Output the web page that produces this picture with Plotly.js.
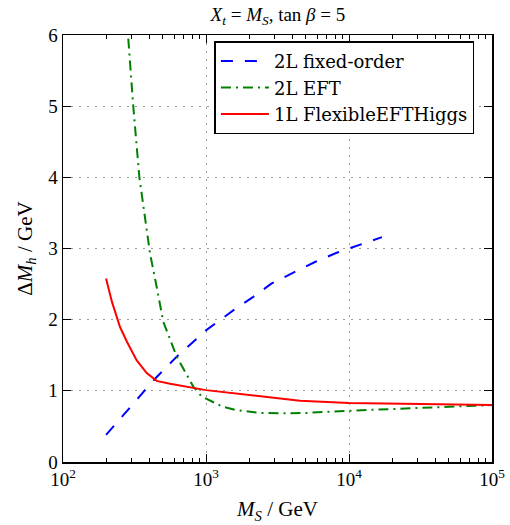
<!DOCTYPE html>
<html>
<head>
<meta charset="utf-8">
<script src="https://cdn.plot.ly/plotly-3.0.1.min.js"></script>
<style>html,body{margin:0;padding:0;background:#fff;}#chart{width:510px;height:525px;}</style>
</head>
<body>
<div id="chart"></div>
<script>
// M_S values (GeV) and Delta M_h (GeV)
const fixedOrderX = [200, 440, 624, 1000, 1550, 2140, 2880, 4080, 5780, 8200, 10000, 17000];
const fixedOrderY = [0.38, 1.17, 1.48, 1.85, 2.13, 2.32, 2.51, 2.66, 2.81, 2.94, 3.00, 3.16];

const eftX = [286, 310, 342, 385, 406, 452, 503, 624, 815, 933, 1114, 1300, 1620, 1950, 2390, 3500, 5060, 10000, 22700, 50800, 100000];
const eftY = [5.95, 5.00, 4.00, 3.26, 2.93, 2.46, 1.97, 1.48, 1.06, 0.92, 0.85, 0.78, 0.73, 0.71, 0.69, 0.685, 0.69, 0.72, 0.745, 0.77, 0.80];

const flexX = [200, 220, 250, 280, 327, 385, 452, 560, 1000, 2390, 4540, 10000, 30000, 100000];
const flexY = [2.58, 2.25, 1.90, 1.69, 1.43, 1.25, 1.14, 1.10, 1.01, 0.92, 0.86, 0.83, 0.815, 0.80];

const seriesNames = ["2L fixed-order", "2L EFT", "1L FlexibleEFTHiggs"];
const xTickVals = [100, 1000, 10000, 100000];
const xTickText = ["10<sup>2</sup>", "10<sup>3</sup>", "10<sup>4</sup>", "10<sup>5</sup>"];
const xMinorVals = [200,300,400,500,600,700,800,900,2000,3000,4000,5000,6000,7000,8000,9000,20000,30000,40000,50000,60000,70000,80000,90000];
const yTickVals = [0, 1, 2, 3, 4, 5, 6];

const serif = "Liberation Serif, DejaVu Serif, serif";

const traces = [
  {x: fixedOrderX, y: fixedOrderY, name: seriesNames[0], mode: "lines",
   line: {color: "#0000ff", width: 2, dash: "12px,12px"}},
  {x: eftX, y: eftY, name: seriesNames[1], mode: "lines",
   line: {color: "#008000", width: 2, dash: "10px,5px,2px,5px"}},
  {x: flexX, y: flexY, name: seriesNames[2], mode: "lines",
   line: {color: "#ff0000", width: 2}}
];

const layout = {
  width: 510, height: 525,
  margin: {l: 63, r: 18, t: 35, b: 63},
  paper_bgcolor: "#fff", plot_bgcolor: "#fff",
  font: {family: serif, size: 18, color: "#000"},
  title: {text: "<i>X</i><sub><i>t</i></sub> = <i>M</i><sub><i>S</i></sub>, tan <i>β</i> = 5",
          x: 0.545, xanchor: "center", y: 0.972, yanchor: "middle", yref: "container",
          font: {family: serif, size: 19, color: "#000"}},
  xaxis: {type: "log", range: [2, 5],
          tickmode: "array", tickvals: xTickVals, ticktext: xTickText,
          ticks: "inside", ticklen: 8, tickwidth: 1, tickcolor: "#000",
          showline: true, linecolor: "#000", linewidth: 1.5, mirror: "ticks",
          showgrid: true, gridcolor: "#999", griddash: "2px,6px", gridwidth: 1,
          zeroline: false,
          minor: {tickmode: "array", tickvals: xMinorVals, ticks: "inside", ticklen: 4, tickwidth: 1, tickcolor: "#000", showgrid: false},
          tickfont: {family: serif, size: 19},
          title: {text: "<i>M</i><sub><i>S</i></sub> / GeV", standoff: 12, font: {family: serif, size: 21}},
          automargin: false},
  yaxis: {range: [0, 6], tickmode: "array", tickvals: yTickVals,
          ticks: "inside", ticklen: 8, tickwidth: 1, tickcolor: "#000",
          showline: true, linecolor: "#000", linewidth: 1.5, mirror: "ticks",
          showgrid: true, gridcolor: "#999", griddash: "2px,6px", gridwidth: 1,
          zeroline: false,
          tickfont: {family: serif, size: 19},
          title: {text: "Δ<i>M</i><sub><i>h</i></sub> / GeV", standoff: 10, font: {family: serif, size: 21}},
          automargin: false},
  showlegend: true,
  legend: {x: 0.353, xanchor: "left", y: 0.985, yanchor: "top",
           bgcolor: "#fff", bordercolor: "#000", borderwidth: 1.5,
           itemwidth: 48, font: {family: "DejaVu Serif, serif", size: 18, color: "#000"}}
};

Plotly.newPlot("chart", traces, layout, {staticPlot: true, displayModeBar: false});
</script>
</body>
</html>
